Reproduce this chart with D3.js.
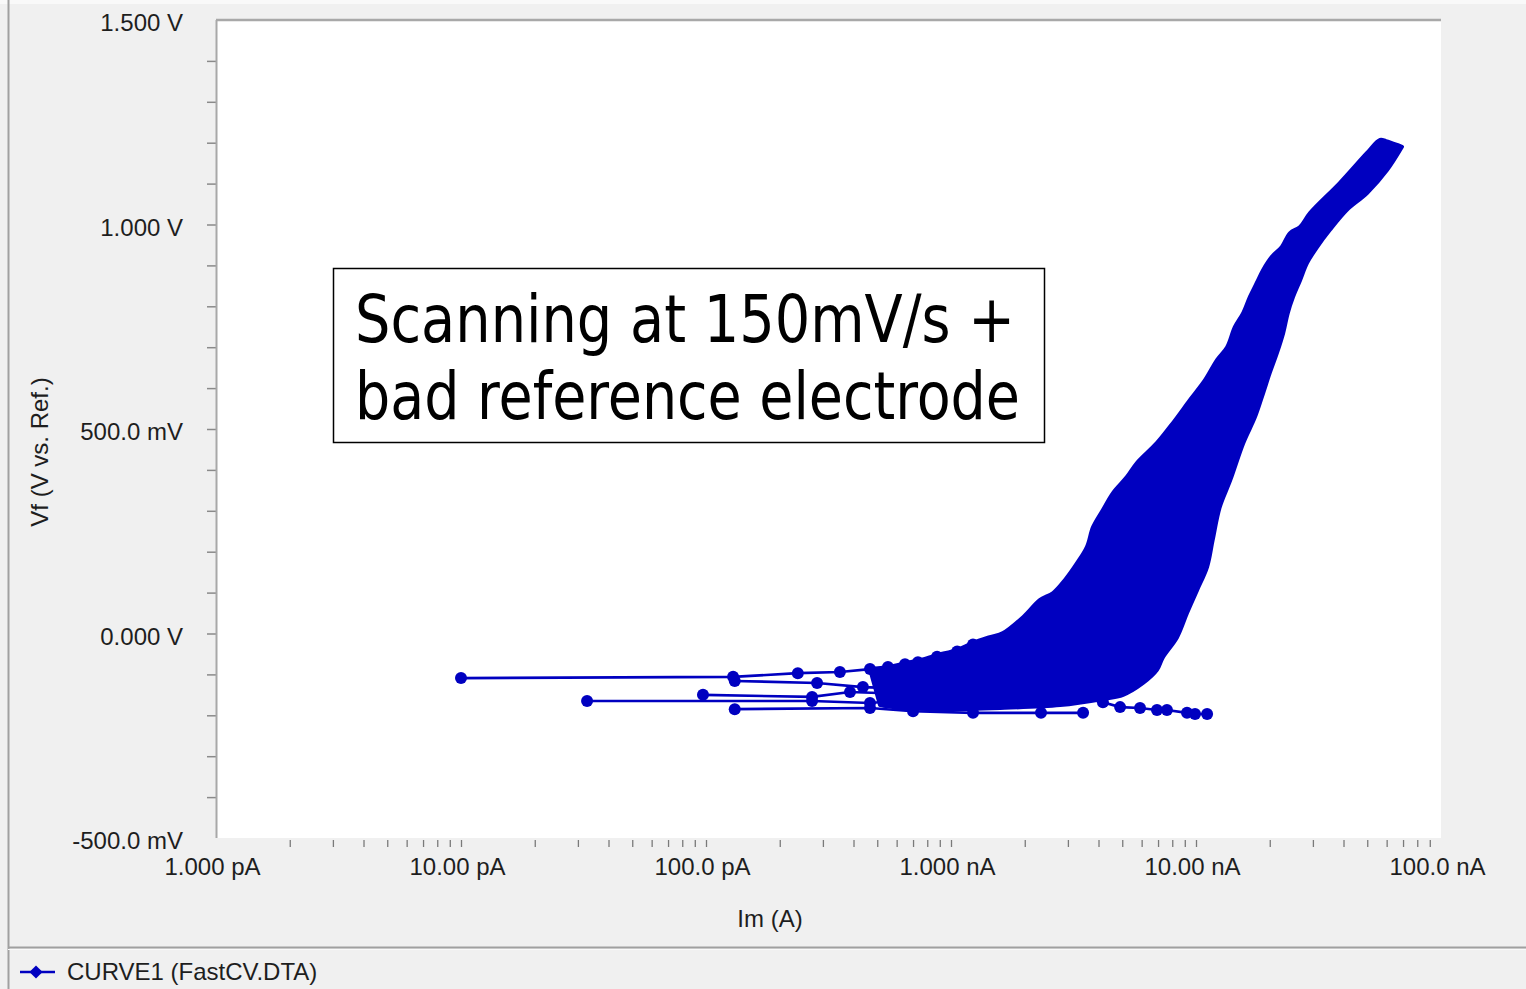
<!DOCTYPE html>
<html>
<head>
<meta charset="utf-8">
<script src="https://cdn.jsdelivr.net/npm/d3@7"></script>
<style>
  html, body { margin: 0; padding: 0; background: #f0f0f0; }
  svg { display: block; }
  .axis text { font-family: "Liberation Sans", Arial, sans-serif; font-size: 24px; fill: #1e1e1e; }
</style>
</head>
<body>
<svg id="chart" width="1526" height="989"></svg>
<script>
// ---------- data (current in nA, potential in V) ----------
const xTickValues = [1e-12, 1e-11, 1e-10, 1e-9, 1e-8, 1e-7];
const xTickLabels = ["1.000 pA", "10.00 pA", "100.0 pA", "1.000 nA", "10.00 nA", "100.0 nA"];
const yTickValues = [1.5, 1.0, 0.5, 0, -0.5];
const yTickLabels = ["1.500 V", "1.000 V", "500.0 mV", "0.000 V", "-500.0 mV"];

// upper / left boundary of the dense band of overlapping cycles (bottom -> top)
const upperEdge = [
  [0.467, -0.087], [0.553, -0.082], [0.661, -0.072], [0.747, -0.065], [0.877, -0.053],
  [1.06, -0.040], [1.23, -0.023], [1.44, -0.009], [1.63, 0.001], [1.97, 0.040],
  [2.31, 0.082], [2.61, 0.099], [2.92, 0.131], [3.27, 0.172], [3.59, 0.212],
  [3.80, 0.260], [4.17, 0.302], [4.59, 0.344], [5.23, 0.383], [5.74, 0.417],
  [6.93, 0.466], [8.06, 0.515], [9.45, 0.571], [10.9, 0.620], [12.2, 0.669],
  [13.4, 0.700], [14.4, 0.749], [15.6, 0.784], [16.6, 0.823], [17.7, 0.857],
  [18.8, 0.889], [20.4, 0.921], [22.4, 0.945], [24.2, 0.979], [26.6, 0.994],
  [29.2, 1.028], [38.7, 1.102], [49.9, 1.175], [56.4, 1.207], [59.6, 1.204], [66.7, 1.194]
];
// lower / right boundary (top -> bottom -> back left)
const lowerEdge = [
  [69.3, 1.190], [60.2, 1.133], [49.9, 1.077], [41.3, 1.036], [35.2, 0.987],
  [31.2, 0.945], [28.4, 0.906], [26.6, 0.864], [24.9, 0.823], [23.7, 0.784],
  [22.7, 0.735], [21.4, 0.686], [20.0, 0.637], [18.8, 0.588], [17.4, 0.529],
  [15.6, 0.466], [13.8, 0.375], [12.5, 0.309], [11.7, 0.229], [11.1, 0.163],
  [10.1, 0.106], [9.19, 0.050], [8.37, -0.009], [7.33, -0.058], [6.93, -0.089],
  [6.08, -0.121], [5.04, -0.150], [4.17, -0.160], [2.79, -0.175], [1.59, -0.182],
  [0.902, -0.185], [0.619, -0.182], [0.513, -0.175]
];
// low-current excursions near the potential minimum (individual data points)
const tailA = [[0.010, -0.109], [0.129, -0.106], [0.237, -0.097], [0.352, -0.094], [0.467, -0.087]];
const tailB = [[0.131, -0.116], [0.284, -0.121], [0.437, -0.131], [0.538, -0.133]];
const tailC = [[0.0972, -0.150], [0.271, -0.155], [0.387, -0.143], [0.538, -0.146]];
const tailD = [[0.0327, -0.165], [0.271, -0.165], [0.467, -0.170], [0.538, -0.167]];
const tailE = [[0.131, -0.185], [0.467, -0.182], [0.700, -0.190], [1.23, -0.194], [2.33, -0.194], [3.46, -0.194]];
const tailF = [[4.17, -0.168], [4.90, -0.180], [5.91, -0.182], [6.93, -0.187], [7.61, -0.187], [9.19, -0.194], [9.91, -0.197], [11.1, -0.197]];
const edgeMarkers = [[0.553, -0.082], [0.649, -0.075], [0.733, -0.070], [0.877, -0.057], [1.06, -0.044], [1.23, -0.027]];

const annotationLines = ["Scanning at 150mV/s +", "bad reference electrode"];
const xTitle = "Im (A)";
const yTitle = "Vf (V vs. Ref.)";
const legendLabel = "CURVE1 (FastCV.DTA)";

// ---------- layout ----------
const BLUE = "#0000c0";
const svg = d3.select("#chart");
const plot = { left: 216, right: 1441, top: 20, bottom: 838 };

const x = d3.scaleLog().domain([1e-12, 1e-7]).range([plot.left, plot.right]);
const y = d3.scaleLinear().domain([-0.5, 1.5]).range([plot.bottom, plot.top]);
const px = d => x(d[0] * 1e-9);
const py = d => y(d[1]);

// window chrome
svg.append("rect").attr("x", 0).attr("y", 0).attr("width", 1526).attr("height", 989).attr("fill", "#f0f0f0");
svg.append("rect").attr("x", 0).attr("y", 0).attr("width", 1526).attr("height", 4).attr("fill", "#f9f9f9");
svg.append("line").attr("x1", 8.5).attr("x2", 8.5).attr("y1", 0).attr("y2", 989).attr("stroke", "#a0a0a0").attr("stroke-width", 2);
svg.append("line").attr("x1", 8).attr("x2", 1526).attr("y1", 947.5).attr("y2", 947.5).attr("stroke", "#a0a0a0").attr("stroke-width", 2);
svg.append("line").attr("x1", 8).attr("x2", 1526).attr("y1", 949.5).attr("y2", 949.5).attr("stroke", "#fafafa").attr("stroke-width", 1);

// plot area
svg.append("rect").attr("x", plot.left).attr("y", plot.top)
  .attr("width", plot.right - plot.left).attr("height", plot.bottom - plot.top).attr("fill", "#ffffff");

svg.append("clipPath").attr("id", "clip").append("rect")
  .attr("x", plot.left).attr("y", plot.top).attr("width", plot.right - plot.left).attr("height", plot.bottom - plot.top);

// axes: minor ticks
const yMinor = d3.range(-5, 16).map(v => v / 10).filter(v => v > -0.5 && v < 1.5);
const yAxisTicks = svg.append("g").attr("class", "axis").attr("transform", `translate(${plot.left},0)`)
  .call(d3.axisLeft(y).tickValues(yMinor).tickSize(9).tickFormat(""));
yAxisTicks.select(".domain").remove();
yAxisTicks.selectAll("line").attr("stroke", "#8a8a8a").attr("stroke-width", 1.5);

const xMinor = x.ticks().filter(v => v > 1.01e-12 && v < 0.99e-7);
const xAxisTicks = svg.append("g").attr("class", "axis").attr("transform", `translate(0,${plot.bottom + 2})`)
  .call(d3.axisBottom(x).tickValues(xMinor).tickSize(7).tickFormat(""));
xAxisTicks.select(".domain").remove();
xAxisTicks.selectAll("line").attr("stroke", "#7a7a7a").attr("stroke-width", 1.3);

// axes: labels
const yLab = svg.append("g").attr("class", "axis").attr("transform", `translate(${plot.left},0)`)
  .call(d3.axisLeft(y).tickValues(yTickValues).tickSize(0).tickPadding(33)
    .tickFormat((d, i) => yTickLabels[i]));
yLab.select(".domain").remove();
yLab.selectAll("text").attr("dy", "0.45em");

const xLab = svg.append("g").attr("class", "axis").attr("transform", `translate(0,${plot.bottom})`)
  .call(d3.axisBottom(x).tickValues(xTickValues).tickSize(0).tickPadding(20)
    .tickFormat((d, i) => xTickLabels[i]));
xLab.select(".domain").remove();
xLab.selectAll("text").attr("dx", -4);

// frame (top and left)
svg.append("line").attr("x1", plot.left).attr("x2", plot.right).attr("y1", plot.top).attr("y2", plot.top)
  .attr("stroke", "#a8a8a8").attr("stroke-width", 2.5);
svg.append("line").attr("x1", plot.left + 0.5).attr("x2", plot.left + 0.5).attr("y1", plot.top).attr("y2", plot.bottom)
  .attr("stroke", "#a8a8a8").attr("stroke-width", 2);

// titles
svg.append("text").attr("x", 770).attr("y", 927)
  .attr("text-anchor", "middle")
  .style("font-family", "'Liberation Sans', Arial, sans-serif").style("font-size", "24px").style("fill", "#1e1e1e")
  .text(xTitle);
svg.append("text").attr("transform", "translate(48,452) rotate(-90)")
  .attr("text-anchor", "middle")
  .style("font-family", "'Liberation Sans', Arial, sans-serif").style("font-size", "24px").style("fill", "#1e1e1e")
  .text(yTitle);

// data
const g = svg.append("g").attr("clip-path", "url(#clip)");
const line = d3.line().x(px).y(py);
const smooth = d3.line().x(px).y(py).curve(d3.curveCatmullRom.alpha(0.5));

g.append("path")
  .attr("d", smooth(upperEdge) + "L" + smooth(lowerEdge).slice(1) + "Z")
  .attr("fill", BLUE).attr("stroke", BLUE).attr("stroke-width", 4).attr("stroke-linejoin", "round");

const tails = [tailA, tailB, tailC, tailD, tailE, tailF];
g.selectAll("path.tail").data(tails).join("path").attr("class", "tail")
  .attr("d", line).attr("fill", "none").attr("stroke", BLUE).attr("stroke-width", 2.6);

const markerPts = tails.flat().concat(edgeMarkers);
g.selectAll("circle.mk").data(markerPts).join("circle").attr("class", "mk")
  .attr("cx", px).attr("cy", py).attr("r", 6).attr("fill", BLUE);

// annotation box
svg.append("rect").attr("x", 333.5).attr("y", 268.5).attr("width", 711).attr("height", 174)
  .attr("fill", "#ffffff").attr("stroke", "#000").attr("stroke-width", 1.5);
const annBase = [342, 419];
const annLen = [660, 665];
svg.selectAll("text.ann").data(annotationLines).join("text").attr("class", "ann")
  .attr("x", 355).attr("y", (d, i) => annBase[i])
  .attr("textLength", (d, i) => annLen[i]).attr("lengthAdjust", "spacingAndGlyphs")
  .style("font-family", "'DejaVu Sans Condensed', 'DejaVu Sans', sans-serif")
  .style("font-size", "66px").style("fill", "#000")
  .text(d => d);

// legend
svg.append("line").attr("x1", 20).attr("x2", 55).attr("y1", 972).attr("y2", 972)
  .attr("stroke", BLUE).attr("stroke-width", 2.5);
svg.append("path").attr("d", d3.symbol(d3.symbolDiamond2, 110)()).attr("transform", "translate(36,972)")
  .attr("fill", BLUE);
svg.append("text").attr("x", 67).attr("y", 980)
  .style("font-family", "'Liberation Sans', Arial, sans-serif").style("font-size", "24px").style("fill", "#1e1e1e")
  .text(legendLabel);
</script>
</body>
</html>
